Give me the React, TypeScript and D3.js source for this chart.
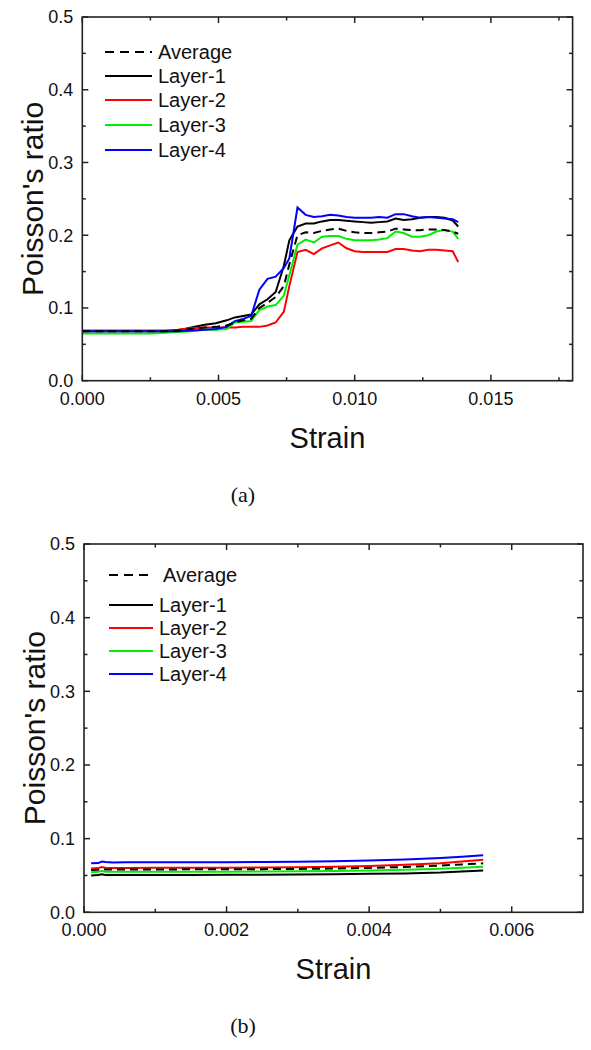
import React from "react";
import * as d3 from "d3";

// ---------- Data (a) ----------
const strainA = [0, 0.0005, 0.001, 0.0015, 0.002, 0.0025, 0.003, 0.0035, 0.004, 0.0045, 0.0049, 0.0053, 0.0056, 0.0059, 0.0062, 0.0065, 0.0068, 0.0071, 0.0074, 0.0076, 0.0079, 0.0082, 0.0085, 0.0088, 0.0091, 0.0094, 0.0097, 0.0100, 0.0103, 0.0106, 0.0109, 0.0112, 0.0115, 0.0118, 0.0121, 0.0124, 0.0127, 0.0130, 0.0133, 0.0136, 0.0138];
const avgA = [0.068, 0.068, 0.068, 0.068, 0.068, 0.068, 0.068, 0.069, 0.071, 0.073, 0.074, 0.076, 0.080, 0.083, 0.085, 0.100, 0.107, 0.115, 0.130, 0.160, 0.200, 0.204, 0.203, 0.206, 0.208, 0.209, 0.206, 0.204, 0.203, 0.203, 0.204, 0.205, 0.209, 0.208, 0.207, 0.207, 0.208, 0.208, 0.207, 0.205, 0.202];
const layer1A = [0.068, 0.068, 0.068, 0.068, 0.068, 0.068, 0.068, 0.069, 0.073, 0.077, 0.079, 0.083, 0.087, 0.089, 0.091, 0.105, 0.112, 0.122, 0.158, 0.193, 0.212, 0.216, 0.216, 0.219, 0.221, 0.221, 0.220, 0.219, 0.218, 0.217, 0.218, 0.219, 0.223, 0.221, 0.222, 0.224, 0.225, 0.225, 0.224, 0.220, 0.212];
const layer2A = [0.069, 0.069, 0.069, 0.069, 0.069, 0.069, 0.069, 0.070, 0.072, 0.073, 0.073, 0.073, 0.073, 0.074, 0.074, 0.074, 0.076, 0.080, 0.095, 0.130, 0.177, 0.180, 0.174, 0.182, 0.186, 0.190, 0.182, 0.178, 0.177, 0.177, 0.177, 0.177, 0.181, 0.181, 0.179, 0.178, 0.180, 0.180, 0.179, 0.178, 0.163];
const layer3A = [0.065, 0.065, 0.065, 0.065, 0.065, 0.065, 0.066, 0.067, 0.068, 0.070, 0.070, 0.071, 0.080, 0.081, 0.082, 0.097, 0.102, 0.104, 0.117, 0.145, 0.187, 0.194, 0.190, 0.198, 0.199, 0.199, 0.195, 0.193, 0.193, 0.193, 0.194, 0.196, 0.205, 0.203, 0.198, 0.198, 0.200, 0.205, 0.207, 0.205, 0.195];
const layer4A = [0.068, 0.068, 0.068, 0.068, 0.068, 0.068, 0.068, 0.068, 0.069, 0.070, 0.071, 0.074, 0.082, 0.085, 0.089, 0.125, 0.140, 0.143, 0.155, 0.168, 0.238, 0.228, 0.225, 0.226, 0.228, 0.227, 0.225, 0.224, 0.224, 0.224, 0.225, 0.224, 0.229, 0.229, 0.226, 0.224, 0.225, 0.224, 0.223, 0.222, 0.218];

// ---------- Data (b) ----------
const strainB = [0.0001, 0.0002, 0.00025, 0.0003, 0.0004, 0.0006, 0.001, 0.0015, 0.002, 0.0025, 0.003, 0.0035, 0.004, 0.0045, 0.005, 0.0053, 0.0056];
const avgB = [0.0575, 0.0578, 0.0590, 0.0582, 0.0580, 0.0581, 0.0582, 0.0583, 0.0584, 0.0586, 0.0589, 0.0594, 0.0603, 0.0615, 0.0635, 0.0650, 0.0665];
const layer1B = [0.0500, 0.0505, 0.0515, 0.0508, 0.0505, 0.0506, 0.0507, 0.0508, 0.0509, 0.0510, 0.0512, 0.0516, 0.0522, 0.0528, 0.0540, 0.0555, 0.0566];
const layer2B = [0.0595, 0.0600, 0.0615, 0.0605, 0.0600, 0.0602, 0.0604, 0.0605, 0.0606, 0.0608, 0.0612, 0.0618, 0.0630, 0.0645, 0.0665, 0.0690, 0.0712];
const layer3B = [0.0545, 0.0550, 0.0562, 0.0552, 0.0550, 0.0550, 0.0551, 0.0551, 0.0552, 0.0554, 0.0557, 0.0561, 0.0568, 0.0578, 0.0592, 0.0605, 0.0620];
const layer4B = [0.0665, 0.0668, 0.0690, 0.0682, 0.0676, 0.0678, 0.0680, 0.0680, 0.0681, 0.0683, 0.0686, 0.0692, 0.0702, 0.0718, 0.0738, 0.0755, 0.0775];

const seriesNames = ["Average", "Layer-1", "Layer-2", "Layer-3", "Layer-4"];
const seriesColors = ["#000000", "#000000", "#ff0000", "#00ee00", "#0000ff"];

const xTicksA = [0, 0.005, 0.01, 0.015];
const xMinorA = [0.0025, 0.0075, 0.0125, 0.0175];
const xTicksB = [0, 0.002, 0.004, 0.006];
const xMinorB = [0.001, 0.003, 0.005];
const yTicks = [0, 0.1, 0.2, 0.3, 0.4, 0.5];
const yMinor = [0.05, 0.15, 0.25, 0.35, 0.45];

const FONT = "Arial, 'Liberation Sans', sans-serif";

type PanelProps = {
  left: number; right: number; top: number; bottom: number;
  xMax: number; xTicks: number[]; xMinor: number[];
  strain: number[]; series: number[][];
  legendY: number[]; legendX1: number; legendX2: number; legendTextX: number; avgTextX: number;
  label: string;
};

function Panel(p: PanelProps) {
  const x = d3.scaleLinear().domain([0, p.xMax]).range([p.left, p.right]);
  const y = d3.scaleLinear().domain([0, 0.5]).range([p.bottom, p.top]);
  const line = d3.line<[number, number]>().x(d => x(d[0])).y(d => y(d[1]));
  const fmt = d3.format(".3f");
  const major = 6, minor = 3.5;
  const cx = (p.left + p.right) / 2;
  const cy = (p.top + p.bottom) / 2;
  const order = [1, 2, 3, 4, 0];
  return (
    <g>
      {order.map(i => (
        <path key={i}
          d={line(p.strain.map((s, k) => [s, p.series[i][k]] as [number, number])) || ""}
          fill="none" stroke={seriesColors[i]} strokeWidth={2}
          strokeDasharray={i === 0 ? "8,5" : undefined} />
      ))}
      <rect x={p.left} y={p.top} width={p.right - p.left} height={p.bottom - p.top}
        fill="none" stroke="#222" strokeWidth={1.6} />
      {p.xTicks.map(t => (
        <g key={"xt" + t}>
          <line x1={x(t)} x2={x(t)} y1={p.bottom} y2={p.bottom - major} stroke="#222" strokeWidth={1.5} />
          <line x1={x(t)} x2={x(t)} y1={p.top} y2={p.top + major} stroke="#222" strokeWidth={1.5} />
          <text x={x(t)} y={p.bottom + 24} textAnchor="middle" fontSize={18} fontFamily={FONT} fill="#111">{fmt(t)}</text>
        </g>
      ))}
      {p.xMinor.filter(t => t < p.xMax).map(t => (
        <g key={"xm" + t}>
          <line x1={x(t)} x2={x(t)} y1={p.bottom} y2={p.bottom - minor} stroke="#222" strokeWidth={1.5} />
          <line x1={x(t)} x2={x(t)} y1={p.top} y2={p.top + minor} stroke="#222" strokeWidth={1.5} />
        </g>
      ))}
      {yTicks.map(t => (
        <g key={"yt" + t}>
          <line x1={p.left} x2={p.left + major} y1={y(t)} y2={y(t)} stroke="#222" strokeWidth={1.5} />
          <line x1={p.right} x2={p.right - major} y1={y(t)} y2={y(t)} stroke="#222" strokeWidth={1.5} />
          <text x={p.left - 9} y={y(t)} dy="0.36em" textAnchor="end" fontSize={18} fontFamily={FONT} fill="#111">{t.toFixed(1)}</text>
        </g>
      ))}
      {yMinor.map(t => (
        <g key={"ym" + t}>
          <line x1={p.left} x2={p.left + minor} y1={y(t)} y2={y(t)} stroke="#222" strokeWidth={1.5} />
          <line x1={p.right} x2={p.right - minor} y1={y(t)} y2={y(t)} stroke="#222" strokeWidth={1.5} />
        </g>
      ))}
      <text x={cx} y={p.bottom + 67} textAnchor="middle" fontSize={29} fontFamily={FONT} fill="#111">Strain</text>
      <text transform={`translate(${p.left - 39},${cy}) rotate(-90)`} textAnchor="middle" fontSize={30} fontFamily={FONT} fill="#111">Poisson's ratio</text>
      {seriesNames.map((n, i) => (
        <g key={n}>
          <line x1={p.legendX1} x2={p.legendX2} y1={p.legendY[i]} y2={p.legendY[i]}
            stroke={seriesColors[i]} strokeWidth={2} strokeDasharray={i === 0 ? "9,6" : undefined} />
          <text x={i === 0 ? p.avgTextX : p.legendTextX} y={p.legendY[i]} dy="0.35em" fontSize={20} fontFamily={FONT} fill="#111">{n}</text>
        </g>
      ))}
      <text x={243} y={p.bottom + 121} textAnchor="middle" fontSize={22} fontFamily="'Times New Roman', 'Liberation Serif', serif" fill="#111">{p.label}</text>
    </g>
  );
}

export default function App() {
  return (
    <svg width={591} height={1050} style={{ position: "absolute", left: 0, top: 0, background: "#fff" }}>
      <rect width={591} height={1050} fill="#fff" />
      <Panel left={82.3} right={572.6} top={17} bottom={380.7} xMax={0.018}
        xTicks={xTicksA} xMinor={xMinorA} strain={strainA}
        series={[avgA, layer1A, layer2A, layer3A, layer4A]}
        legendY={[52, 76, 100, 125, 150]} legendX1={105} legendX2={152} legendTextX={158} avgTextX={158}
        label="(a)" />
      <Panel left={84} right={583} top={544} bottom={912.3} xMax={0.007}
        xTicks={xTicksB} xMinor={xMinorB} strain={strainB}
        series={[avgB, layer1B, layer2B, layer3B, layer4B]}
        legendY={[575, 605, 628, 651, 674]} legendX1={109} legendX2={153} legendTextX={159} avgTextX={163}
        label="(b)" />
    </svg>
  );
}
